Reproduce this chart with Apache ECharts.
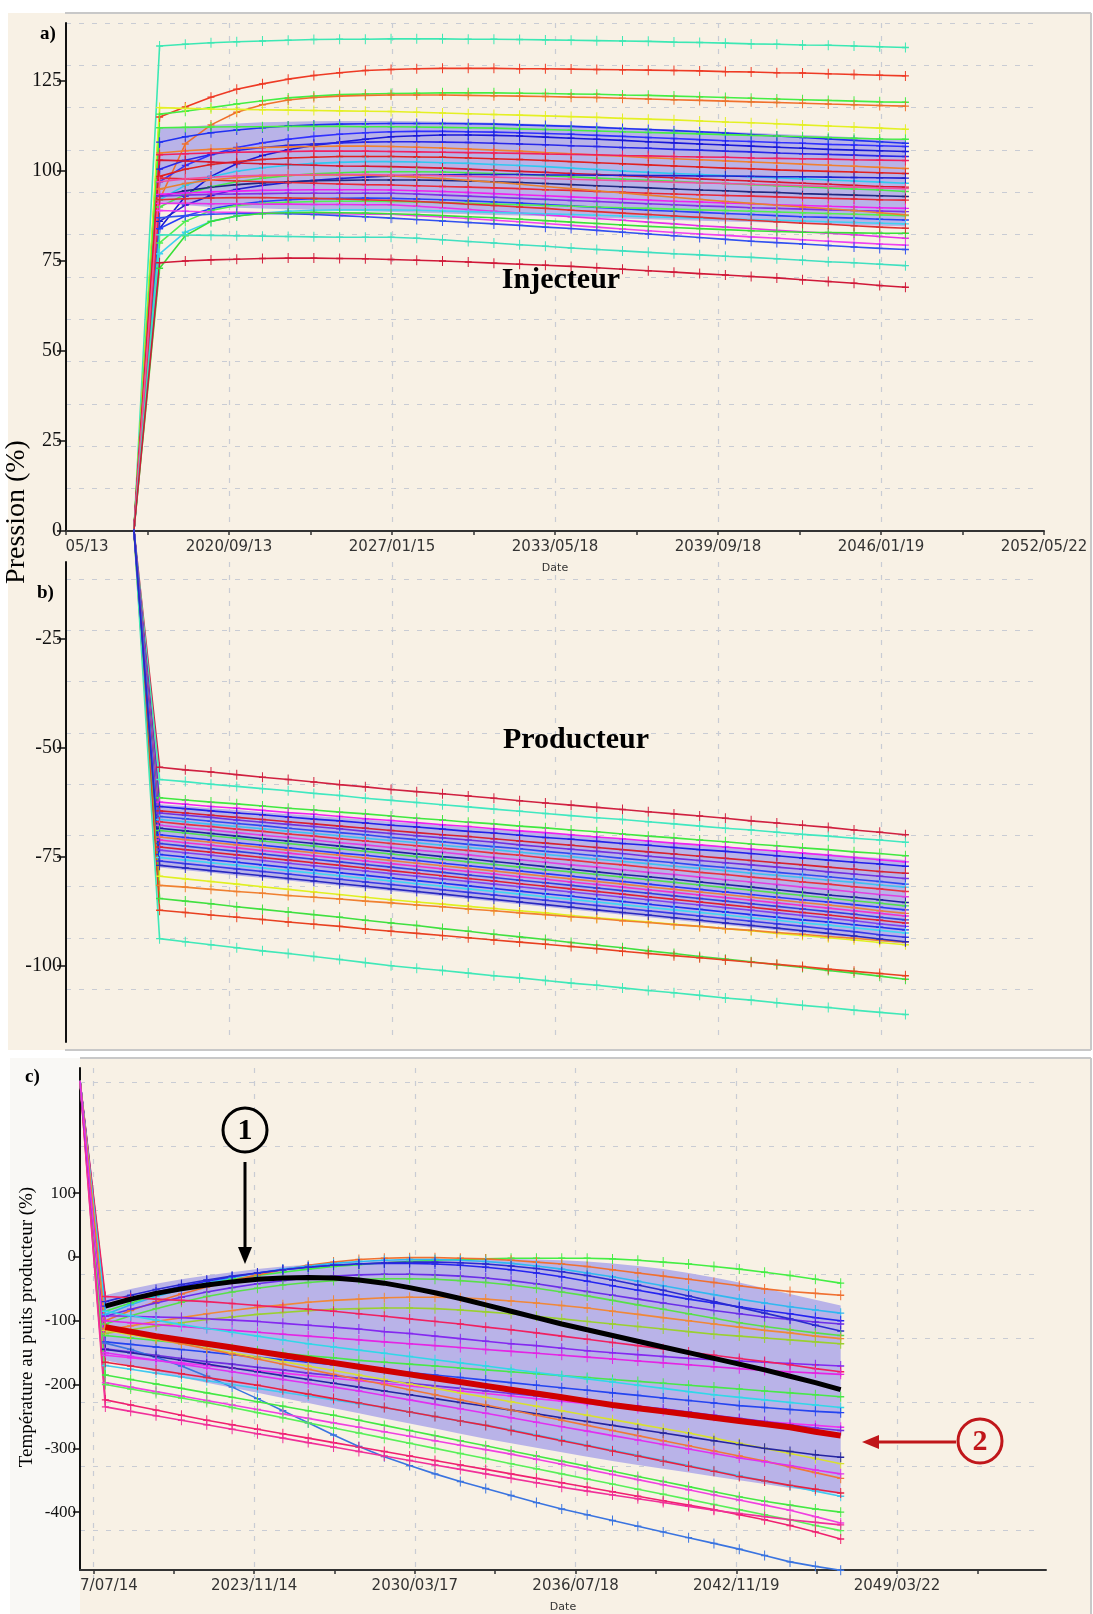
<!DOCTYPE html>
<html><head><meta charset="utf-8">
<script src="https://cdn.jsdelivr.net/npm/echarts@6/dist/echarts.min.js"></script>
<style>html,body{margin:0;padding:0;background:#fff}#c{width:1093px;height:1614px}</style>
</head><body><div id="c"></div>
<script>
// ---------------- DATA ----------------
const years = [2018,2019,2020,2021,2022,2023,2024,2025,2026,2027,2028,2029,2030,2031,2032,2033,2034,2035,2036,2037,2038,2039,2040,2041,2042,2043,2044,2045,2046,2047];
const simStart = '2017/01/01';
const injStartValue = 0;
const prodStartValue = 0;
const tempStartValue = 276;

const xTickDatesAB = ['2014/05/13','2020/09/13','2027/01/15','2033/05/18','2039/09/18','2046/01/19','2052/05/22'];
const xTickTextAB  = ['05/13','2020/09/13','2027/01/15','2033/05/18','2039/09/18','2046/01/19','2052/05/22'];
const xRangeAB = ['2014/05/13','2052/05/22'];
const xTickDatesC = ['2017/07/14','2023/11/14','2030/03/17','2036/07/18','2042/11/19','2049/03/22'];
const xTickTextC  = ['7/07/14','2023/11/14','2030/03/17','2036/07/18','2042/11/19','2049/03/22'];
const xRangeC = ['2017/01/01','2055/02/05'];

const yTicksInj = [0,25,50,75,100,125];
const yRangeInj = [0,141.1];
const yTicksProd = [-25,-50,-75,-100];
const yRangeProd = [-117.5,-7.45];
const yTicksTemp = [100,0,-100,-200,-300,-400];
const yRangeTemp = [-490.7,296.3];

// a) Injecteur
const inj01 = [134.7,135.2,135.6,135.9,136.1,136.3,136.5,136.6,136.6,136.7,136.7,136.7,136.6,136.6,136.5,136.4,136.3,136.2,136.1,136.0,135.8,135.7,135.5,135.3,135.2,135.0,134.9,134.7,134.5,134.3];
const inj02 = [115.0,117.8,120.5,122.7,124.2,125.5,126.5,127.3,127.9,128.2,128.4,128.5,128.5,128.5,128.4,128.4,128.3,128.2,128.1,128.0,127.9,127.8,127.6,127.5,127.3,127.2,127.0,126.8,126.6,126.4];
const inj03 = [115.8,116.6,117.6,118.6,119.5,120.3,120.8,121.2,121.4,121.5,121.6,121.7,121.7,121.7,121.6,121.5,121.4,121.3,121.1,121.0,120.8,120.6,120.4,120.2,120.0,119.8,119.6,119.4,119.2,119.1];
const inj04 = [92.0,107.5,112.8,116.3,118.4,119.7,120.4,120.8,121.0,121.1,121.1,121.1,121.0,120.9,120.8,120.7,120.5,120.4,120.2,120.0,119.8,119.6,119.4,119.2,119.0,118.8,118.6,118.4,118.2,118.0];
const inj05 = [117.6,117.4,117.2,117.1,117.0,116.9,116.8,116.7,116.6,116.5,116.3,116.1,115.9,115.7,115.5,115.3,115.1,114.9,114.6,114.4,114.2,113.9,113.6,113.4,113.1,112.8,112.5,112.2,111.9,111.6];
const inj06 = [108.0,109.5,110.6,111.4,112.0,112.5,112.8,113.0,113.1,113.2,113.2,113.2,113.1,113.0,112.8,112.6,112.4,112.1,111.8,111.5,111.2,110.9,110.5,110.1,109.7,109.3,108.9,108.5,108.1,107.7];
const inj07 = [112.0,112.1,112.2,112.3,112.3,112.4,112.4,112.4,112.3,112.3,112.2,112.1,112.0,111.9,111.7,111.5,111.3,111.1,110.9,110.7,110.5,110.3,110.1,109.9,109.7,109.5,109.3,109.1,108.9,108.8];
const inj08 = [97.0,101.5,104.5,106.5,107.8,108.8,109.6,110.2,110.6,110.9,111.0,111.0,110.9,110.8,110.6,110.4,110.2,109.9,109.6,109.3,109.0,108.7,108.4,108.2,107.9,107.7,107.4,107.2,107.0,106.8];
const inj09 = [84.0,93.0,98.5,102.0,104.3,105.9,107.1,108.0,108.8,109.5,109.8,110.0,110.0,109.9,109.7,109.4,109.1,108.8,108.5,108.1,107.8,107.5,107.2,106.9,106.6,106.3,106.0,105.8,105.6,105.4];
const inj10 = [100.5,103.0,104.6,105.7,106.5,107.1,107.5,107.8,108.0,108.1,108.1,108.0,107.9,107.7,107.5,107.3,107.0,106.8,106.5,106.3,106.0,105.8,105.5,105.3,105.0,104.8,104.6,104.4,104.2,104.0];
const inj11 = [105.0,105.6,106.0,106.3,106.5,106.7,106.8,106.9,106.9,106.8,106.6,106.4,106.1,105.8,105.5,105.1,104.8,104.4,104.1,103.7,103.4,103.1,102.8,102.5,102.2,101.9,101.6,101.3,101.0,100.7];
const inj12 = [104.5,104.8,105.0,105.2,105.3,105.4,105.5,105.5,105.5,105.4,105.3,105.2,105.1,105.0,104.9,104.7,104.6,104.5,104.3,104.2,104.0,103.9,103.8,103.6,103.5,103.4,103.3,103.1,103.0,102.9];
const inj13 = [98.5,100.5,101.8,102.6,103.2,103.6,103.8,104.0,104.0,104.0,103.9,103.8,103.6,103.4,103.2,102.9,102.6,102.3,102.0,101.7,101.4,101.1,100.8,100.6,100.3,100.1,99.9,99.7,99.5,99.3];
const inj14 = [92.0,96.0,98.4,99.9,100.9,101.6,102.1,102.4,102.6,102.6,102.5,102.3,102.1,101.8,101.5,101.2,100.8,100.4,100.0,99.6,99.3,99.0,98.7,98.4,98.1,97.8,97.5,97.2,96.9,96.6];
const inj15 = [103.0,102.8,102.5,102.2,102.0,101.8,101.6,101.4,101.3,101.2,101.0,100.8,100.5,100.2,99.9,99.6,99.3,99.0,98.7,98.4,98.1,97.8,97.5,97.2,96.9,96.6,96.3,96.0,95.7,95.5];
const inj16 = [90.0,93.5,95.6,97.0,98.0,98.7,99.2,99.5,99.7,99.8,99.8,99.7,99.5,99.3,99.0,98.7,98.4,98.0,97.7,97.4,97.1,96.8,96.5,96.2,95.9,95.6,95.3,95.0,94.7,94.3];
const inj17 = [86.0,90.5,93.2,94.9,96.0,96.8,97.4,97.9,98.3,98.6,98.8,98.9,99.0,99.0,99.0,98.9,98.9,98.8,98.8,98.7,98.7,98.6,98.6,98.5,98.4,98.4,98.3,98.2,98.1,98.0];
const inj18 = [93.0,94.5,95.5,96.2,96.7,97.0,97.3,97.4,97.5,97.5,97.5,97.4,97.2,97.0,96.8,96.5,96.2,95.9,95.6,95.3,95.0,94.7,94.5,94.2,94.0,93.7,93.5,93.3,93.1,92.9];
const inj19 = [98.0,97.8,97.5,97.2,97.0,96.8,96.6,96.4,96.2,96.1,95.9,95.7,95.5,95.3,95.1,94.8,94.6,94.3,94.1,93.8,93.6,93.4,93.2,93.0,92.8,92.6,92.4,92.2,92.0,91.9];
const inj20 = [93.5,93.9,94.2,94.4,94.6,94.7,94.8,94.8,94.8,94.7,94.5,94.3,94.0,93.7,93.4,93.1,92.8,92.5,92.2,91.9,91.6,91.4,91.1,90.9,90.6,90.4,90.2,90.0,89.8,89.6];
const inj21 = [93.0,93.3,93.5,93.6,93.7,93.8,93.8,93.8,93.8,93.8,93.6,93.3,93.0,92.7,92.4,92.1,91.8,91.5,91.2,90.9,90.6,90.3,90.1,89.8,89.6,89.4,89.2,89.0,88.9,88.7];
const inj22 = [84.0,87.5,89.5,90.7,91.5,92.0,92.3,92.4,92.5,92.4,92.2,92.0,91.7,91.4,91.1,90.7,90.3,89.9,89.5,89.1,88.8,88.5,88.2,87.9,87.6,87.3,87.1,86.9,86.6,86.4];
const inj23 = [80.0,86.0,89.0,90.4,91.0,91.3,91.5,91.6,91.6,91.5,91.4,91.2,91.0,90.8,90.6,90.4,90.2,90.0,89.8,89.6,89.4,89.2,89.0,88.8,88.6,88.4,88.2,88.0,87.8,87.6];
const inj24 = [91.0,91.0,90.9,90.9,90.8,90.8,90.7,90.7,90.6,90.6,90.2,89.8,89.3,88.8,88.3,87.8,87.3,86.8,86.3,85.8,85.3,84.8,84.4,84.0,83.5,83.1,82.7,82.3,81.8,81.3];
const inj25 = [77.0,83.0,86.0,87.5,88.3,88.8,89.1,89.2,89.2,89.2,89.1,88.9,88.7,88.5,88.3,88.1,87.9,87.7,87.5,87.3,87.1,86.9,86.7,86.5,86.3,86.1,85.9,85.7,85.5,85.3];
const inj26 = [89.0,88.8,88.6,88.5,88.4,88.3,88.2,88.1,88.0,88.0,87.6,87.2,86.8,86.3,85.9,85.4,84.9,84.4,83.9,83.4,82.9,82.5,82.1,81.7,81.3,80.9,80.5,80.1,79.7,79.4];
const inj27 = [87.0,87.6,88.0,88.2,88.2,88.1,87.9,87.6,87.3,86.9,86.5,86.1,85.7,85.3,84.9,84.4,84.0,83.5,83.0,82.5,82.0,81.5,81.0,80.5,80.1,79.7,79.3,78.9,78.5,78.2];
const inj28 = [73.0,82.0,86.0,87.5,88.2,88.4,88.5,88.4,88.3,88.1,87.9,87.6,87.3,87.0,86.6,86.2,85.8,85.4,85.0,84.6,84.3,84.0,83.7,83.4,83.2,83.0,82.9,82.8,82.7,82.7];
const inj29 = [95.0,96.5,97.5,98.2,98.6,98.8,98.9,98.9,98.8,98.6,98.3,97.9,97.4,96.9,96.3,95.7,95.1,94.5,93.9,93.3,92.7,92.1,91.5,91.0,90.5,90.0,89.5,89.0,88.4,87.8];
const inj30 = [92.0,92.3,92.5,92.6,92.6,92.5,92.4,92.2,92.0,91.8,91.5,91.2,90.8,90.4,90.0,89.6,89.1,88.7,88.3,87.9,87.5,87.1,86.7,86.3,85.9,85.5,85.2,84.8,84.4,84.1];
const inj31 = [97.0,97.8,98.3,98.6,98.8,98.9,99.0,99.0,99.0,98.9,98.8,98.7,98.5,98.3,98.1,97.9,97.7,97.5,97.3,97.1,96.9,96.7,96.5,96.3,96.1,95.9,95.7,95.5,95.3,95.1];
const inj32 = [82.3,82.2,82.1,82.0,81.9,81.8,81.7,81.6,81.6,81.6,81.3,80.9,80.4,80.0,79.5,79.1,78.6,78.2,77.8,77.4,77.0,76.7,76.3,76.0,75.6,75.2,74.8,74.5,74.1,73.7];
const inj33 = [74.5,75.0,75.3,75.5,75.7,75.8,75.8,75.7,75.6,75.4,75.2,75.0,74.7,74.4,74.1,73.8,73.5,73.1,72.7,72.3,71.9,71.5,71.1,70.7,70.3,69.8,69.3,68.8,68.2,67.7];
const injColors = ['#3ce8b4','#ee3a24','#44ee44','#f0702c','#e4f024','#2030f0','#44ee44','#3030ff','#1818d8','#2828e8','#f08030','#f02060','#e02020','#30c8f0','#d81830','#48e848','#2020d0','#202880','#e82838','#f020f0','#8030e8','#2840f8','#50f050','#e830e8','#40d0f0','#f040f0','#3050f0','#38e038','#e88030','#e03030','#f050a0','#40e0c0','#d01838'];
const injBandHigh = [112.0,112.3,112.8,113.2,113.5,113.7,113.8,113.9,113.9,113.9,113.8,113.7,113.6,113.4,113.2,113.0,112.7,112.4,112.1,111.8,111.5,111.2,110.9,110.6,110.3,110.0,109.7,109.4,109.1,108.7];
const injBandLow  = [91.5,90.5,90.0,89.8,89.6,89.4,89.2,89.0,88.8,88.6,88.4,88.2,88.0,87.8,87.6,87.4,87.2,87.0,86.8,86.6,86.4,86.2,86.0,85.8,85.6,85.4,85.2,85.0,84.8,84.6];

// b) Producteur
const prod01 = [-54.5,-55.1,-55.6,-56.2,-56.8,-57.3,-57.9,-58.5,-59.0,-59.6,-60.1,-60.6,-61.1,-61.6,-62.2,-62.7,-63.2,-63.7,-64.2,-64.7,-65.2,-65.7,-66.2,-66.8,-67.3,-67.8,-68.3,-68.9,-69.4,-70.0];
const prod02 = [-57.3,-57.8,-58.4,-58.9,-59.4,-59.9,-60.5,-61.0,-61.6,-62.1,-62.6,-63.1,-63.6,-64.1,-64.6,-65.1,-65.6,-66.1,-66.5,-67.0,-67.5,-68.0,-68.5,-68.9,-69.4,-69.9,-70.3,-70.8,-71.2,-71.7];
const prod03 = [-61.5,-62.0,-62.5,-62.9,-63.4,-63.9,-64.3,-64.8,-65.2,-65.7,-66.2,-66.6,-67.1,-67.5,-68.0,-68.4,-68.9,-69.3,-69.8,-70.3,-70.7,-71.2,-71.6,-72.1,-72.5,-73.0,-73.4,-73.9,-74.3,-74.8];
const prod04 = [-79.5,-80.1,-80.7,-81.3,-81.9,-82.5,-83.1,-83.7,-84.3,-84.9,-85.4,-85.9,-86.4,-86.9,-87.4,-87.9,-88.5,-89.0,-89.5,-90.0,-90.5,-91.0,-91.5,-92.0,-92.6,-93.1,-93.6,-94.1,-94.7,-95.2];
const prod05 = [-81.6,-82.0,-82.5,-83.0,-83.4,-83.9,-84.3,-84.7,-85.2,-85.6,-86.1,-86.5,-87.0,-87.4,-87.9,-88.3,-88.8,-89.2,-89.7,-90.1,-90.6,-91.0,-91.5,-91.9,-92.4,-92.8,-93.3,-93.7,-94.2,-94.6];
const prod06 = [-84.6,-85.2,-85.8,-86.5,-87.1,-87.7,-88.3,-88.9,-89.6,-90.2,-90.8,-91.5,-92.1,-92.8,-93.4,-94.0,-94.7,-95.3,-95.9,-96.6,-97.2,-97.9,-98.5,-99.1,-99.8,-100.4,-101.1,-101.7,-102.4,-103.1];
const prod07 = [-87.3,-87.8,-88.4,-88.9,-89.4,-90.0,-90.5,-91.0,-91.6,-92.1,-92.6,-93.1,-93.6,-94.1,-94.6,-95.1,-95.6,-96.1,-96.7,-97.2,-97.7,-98.2,-98.7,-99.2,-99.7,-100.2,-100.8,-101.3,-101.8,-102.3];
const prod08 = [-93.8,-94.5,-95.2,-95.9,-96.6,-97.2,-97.9,-98.6,-99.3,-100.0,-100.6,-101.1,-101.7,-102.3,-102.8,-103.4,-104.0,-104.5,-105.1,-105.7,-106.2,-106.8,-107.4,-107.9,-108.5,-109.1,-109.6,-110.2,-110.7,-111.2];
const prod09 = [-62.5,-63.0,-63.5,-63.9,-64.4,-64.9,-65.3,-65.8,-66.3,-66.7,-67.2,-67.7,-68.1,-68.6,-69.1,-69.5,-70.0,-70.5,-70.9,-71.4,-71.9,-72.3,-72.8,-73.3,-73.7,-74.2,-74.7,-75.2,-75.7,-76.2];
const prod10 = [-63.5,-64.0,-64.5,-65.0,-65.4,-65.9,-66.4,-66.8,-67.3,-67.8,-68.2,-68.7,-69.2,-69.6,-70.1,-70.6,-71.0,-71.5,-72.0,-72.4,-72.9,-73.4,-73.8,-74.3,-74.8,-75.3,-75.8,-76.3,-76.7,-77.2];
const prod11 = [-64.5,-65.0,-65.5,-66.0,-66.5,-67.0,-67.5,-68.0,-68.5,-69.0,-69.5,-70.0,-70.4,-70.9,-71.4,-71.9,-72.4,-72.9,-73.4,-73.9,-74.4,-74.9,-75.4,-75.9,-76.4,-76.9,-77.4,-77.9,-78.4,-78.8];
const prod12 = [-65.0,-65.5,-66.0,-66.6,-67.1,-67.6,-68.1,-68.6,-69.2,-69.7,-70.2,-70.7,-71.2,-71.7,-72.3,-72.8,-73.3,-73.8,-74.3,-74.9,-75.4,-75.9,-76.4,-76.9,-77.4,-77.9,-78.5,-79.0,-79.5,-80.0];
const prod13 = [-65.8,-66.3,-66.9,-67.4,-67.9,-68.5,-69.0,-69.5,-70.0,-70.6,-71.1,-71.6,-72.2,-72.7,-73.2,-73.8,-74.3,-74.8,-75.4,-75.9,-76.4,-77.0,-77.5,-78.0,-78.6,-79.1,-79.6,-80.2,-80.7,-81.3];
const prod14 = [-66.5,-67.0,-67.6,-68.1,-68.6,-69.2,-69.7,-70.2,-70.8,-71.3,-71.8,-72.4,-72.9,-73.4,-74.0,-74.5,-75.0,-75.6,-76.1,-76.6,-77.2,-77.7,-78.2,-78.8,-79.3,-79.8,-80.4,-80.9,-81.5,-82.0];
const prod15 = [-67.0,-67.6,-68.1,-68.7,-69.2,-69.8,-70.3,-70.9,-71.4,-72.0,-72.5,-73.1,-73.6,-74.2,-74.7,-75.3,-75.8,-76.4,-76.9,-77.5,-78.0,-78.6,-79.1,-79.7,-80.2,-80.8,-81.3,-81.9,-82.4,-83.0];
const prod16 = [-67.8,-68.4,-68.9,-69.5,-70.1,-70.6,-71.2,-71.8,-72.3,-72.9,-73.5,-74.0,-74.6,-75.2,-75.7,-76.3,-76.9,-77.4,-78.0,-78.6,-79.1,-79.7,-80.3,-80.8,-81.4,-82.0,-82.5,-83.1,-83.7,-84.2];
const prod17 = [-68.5,-69.1,-69.7,-70.3,-70.9,-71.4,-72.0,-72.6,-73.2,-73.8,-74.4,-75.0,-75.5,-76.1,-76.7,-77.3,-77.9,-78.5,-79.1,-79.6,-80.2,-80.8,-81.4,-82.0,-82.6,-83.2,-83.8,-84.3,-84.9,-85.5];
const prod18 = [-69.0,-69.6,-70.2,-70.8,-71.4,-72.0,-72.6,-73.2,-73.8,-74.4,-75.0,-75.6,-76.2,-76.8,-77.4,-78.0,-78.5,-79.1,-79.7,-80.3,-80.9,-81.5,-82.1,-82.7,-83.3,-83.9,-84.5,-85.1,-85.7,-86.3];
const prod19 = [-70.0,-70.6,-71.2,-71.8,-72.4,-73.0,-73.6,-74.2,-74.7,-75.3,-75.9,-76.5,-77.1,-77.7,-78.3,-78.9,-79.5,-80.1,-80.7,-81.3,-81.9,-82.5,-83.1,-83.7,-84.3,-84.9,-85.4,-86.0,-86.6,-87.2];
const prod20 = [-70.5,-71.1,-71.7,-72.3,-72.9,-73.5,-74.1,-74.7,-75.3,-75.9,-76.5,-77.1,-77.7,-78.3,-78.9,-79.5,-80.1,-80.7,-81.3,-81.9,-82.5,-83.1,-83.7,-84.3,-84.9,-85.5,-86.1,-86.7,-87.4,-88.0];
const prod21 = [-71.2,-71.8,-72.4,-73.0,-73.6,-74.2,-74.8,-75.4,-76.0,-76.6,-77.2,-77.8,-78.4,-79.0,-79.6,-80.2,-80.8,-81.4,-82.0,-82.6,-83.2,-83.8,-84.4,-85.0,-85.6,-86.2,-86.8,-87.4,-88.0,-88.6];
const prod22 = [-72.0,-72.6,-73.2,-73.8,-74.4,-75.0,-75.6,-76.2,-76.8,-77.4,-78.0,-78.6,-79.2,-79.8,-80.4,-81.0,-81.6,-82.2,-82.8,-83.4,-84.0,-84.6,-85.2,-85.8,-86.4,-87.0,-87.6,-88.2,-88.9,-89.5];
const prod23 = [-72.8,-73.4,-74.0,-74.6,-75.2,-75.8,-76.4,-77.0,-77.6,-78.2,-78.8,-79.4,-80.0,-80.6,-81.2,-81.8,-82.4,-83.0,-83.6,-84.2,-84.8,-85.4,-86.0,-86.6,-87.2,-87.8,-88.4,-89.0,-89.6,-90.2];
const prod24 = [-73.5,-74.1,-74.7,-75.3,-75.9,-76.5,-77.1,-77.7,-78.3,-78.9,-79.5,-80.1,-80.7,-81.3,-81.9,-82.5,-83.1,-83.7,-84.3,-84.9,-85.5,-86.1,-86.7,-87.3,-87.9,-88.5,-89.1,-89.7,-90.4,-91.0];
const prod25 = [-74.5,-75.1,-75.7,-76.3,-76.9,-77.5,-78.1,-78.7,-79.3,-79.9,-80.5,-81.1,-81.7,-82.3,-82.9,-83.5,-84.1,-84.7,-85.3,-85.9,-86.5,-87.1,-87.7,-88.3,-88.9,-89.5,-90.0,-90.6,-91.2,-91.8];
const prod26 = [-75.2,-75.8,-76.4,-77.0,-77.6,-78.2,-78.8,-79.4,-80.0,-80.6,-81.2,-81.8,-82.4,-83.0,-83.6,-84.2,-84.8,-85.4,-86.0,-86.6,-87.2,-87.8,-88.4,-89.0,-89.6,-90.2,-90.7,-91.3,-91.9,-92.5];
const prod27 = [-76.0,-76.6,-77.2,-77.8,-78.4,-79.0,-79.6,-80.2,-80.8,-81.4,-82.0,-82.6,-83.2,-83.8,-84.4,-85.0,-85.6,-86.2,-86.8,-87.4,-88.0,-88.6,-89.2,-89.8,-90.4,-91.0,-91.6,-92.2,-92.9,-93.5];
const prod28 = [-77.0,-77.6,-78.2,-78.8,-79.4,-80.0,-80.6,-81.2,-81.8,-82.4,-83.0,-83.6,-84.2,-84.8,-85.4,-86.0,-86.6,-87.2,-87.8,-88.4,-89.0,-89.6,-90.2,-90.8,-91.4,-92.0,-92.6,-93.2,-93.9,-94.5];
const prodColors = ['#d02040','#40e8c0','#40e840','#e0f020','#f08030','#40e040','#e84020','#40e8b8','#f020f0','#2020e8','#d82030','#7030e0','#3048f0','#40c0f0','#e83040','#e040e0','#2020a0','#50e050','#2838f8','#e88040','#f030d0','#3040e0','#e02030','#8040f0','#2030f0','#40d8f0','#3838e8','#2828c0'];
const prodBandHigh = [-63.0,-63.4,-63.9,-64.3,-64.8,-65.2,-65.6,-66.1,-66.5,-67.0,-67.4,-67.8,-68.3,-68.7,-69.2,-69.6,-70.0,-70.5,-70.9,-71.4,-71.8,-72.2,-72.7,-73.1,-73.6,-74.0,-74.4,-74.9,-75.3,-75.8];
const prodBandLow  = [-77.5,-78.1,-78.7,-79.3,-79.9,-80.5,-81.1,-81.7,-82.3,-82.9,-83.5,-84.1,-84.7,-85.3,-85.9,-86.5,-87.1,-87.7,-88.3,-88.9,-89.5,-90.1,-90.7,-91.3,-91.9,-92.5,-93.1,-93.7,-94.4,-95.0];

// c) Temperature
const temp01 = [-85,-72,-60,-50,-42,-35,-29,-24,-19,-15,-12,-9,-7,-5,-4,-3,-2,-2,-2,-2,-3,-5,-8,-11,-15,-19,-24,-29,-35,-41];
const temp02 = [-100,-84,-70,-58,-47,-37,-28,-20,-13,-8,-4,-2,-1,-1,-2,-3,-5,-8,-11,-15,-20,-25,-30,-35,-40,-45,-50,-54,-57,-60];
const temp03 = [-90,-75,-62,-51,-41,-32,-25,-19,-14,-10,-7,-5,-4,-4,-5,-7,-10,-14,-19,-25,-31,-38,-45,-52,-59,-66,-72,-78,-83,-88];
const temp04 = [-77,-65,-55,-46,-38,-31,-25,-20,-16,-13,-11,-10,-10,-11,-13,-16,-20,-25,-31,-38,-45,-52,-59,-66,-72,-78,-84,-89,-95,-100];
const temp05 = [-93,-82,-72,-63,-55,-48,-42,-37,-33,-30,-28,-27,-27,-28,-30,-33,-37,-42,-48,-54,-60,-66,-72,-78,-84,-89,-94,-98,-102,-105];
const temp06 = [-70,-60,-51,-43,-36,-30,-25,-20,-16,-13,-11,-9,-8,-8,-9,-11,-14,-18,-23,-29,-36,-44,-52,-61,-70,-79,-88,-97,-107,-116];
const temp07 = [-105,-92,-81,-71,-62,-55,-49,-44,-40,-37,-35,-34,-34,-35,-37,-40,-44,-49,-55,-61,-68,-75,-82,-89,-96,-103,-109,-114,-119,-123];
const temp08 = [-115,-108,-101,-95,-89,-84,-79,-75,-71,-68,-66,-64,-63,-63,-64,-66,-69,-72,-76,-80,-85,-90,-95,-100,-105,-110,-115,-119,-124,-128];
const temp09 = [-120,-114,-108,-103,-98,-94,-90,-87,-84,-82,-81,-80,-80,-81,-83,-86,-89,-93,-97,-101,-105,-109,-113,-117,-121,-124,-127,-130,-133,-136];
const temp10 = [-92,-93,-94,-95,-97,-99,-101,-104,-107,-110,-113,-117,-120,-124,-128,-132,-136,-139,-143,-147,-150,-153,-156,-159,-161,-163,-165,-167,-169,-171];
const temp11 = [-62,-64,-66,-68,-70,-73,-76,-79,-82,-85,-89,-93,-97,-101,-105,-110,-114,-119,-124,-129,-134,-139,-144,-149,-154,-159,-164,-169,-175,-180];
const temp12 = [-100,-103,-106,-109,-112,-115,-118,-121,-124,-127,-130,-133,-136,-139,-142,-145,-148,-151,-154,-157,-160,-163,-166,-169,-172,-175,-178,-180,-182,-184];
const temp13 = [-123,-127,-131,-135,-139,-143,-147,-151,-155,-158,-162,-165,-168,-171,-174,-177,-180,-183,-186,-189,-192,-195,-198,-201,-204,-207,-210,-213,-216,-219];
const temp14 = [-85,-92,-99,-106,-112,-118,-124,-130,-136,-141,-146,-151,-156,-161,-166,-171,-176,-181,-186,-191,-196,-201,-206,-211,-216,-220,-224,-228,-232,-236];
const temp15 = [-133,-137,-141,-145,-149,-153,-157,-161,-165,-169,-173,-177,-181,-185,-189,-193,-197,-201,-205,-209,-213,-217,-221,-225,-229,-233,-236,-239,-242,-244];
const temp16 = [-154,-158,-162,-166,-170,-174,-178,-182,-186,-190,-194,-198,-202,-206,-210,-214,-218,-222,-226,-230,-234,-238,-242,-246,-250,-254,-258,-261,-264,-267];
const temp17 = [-144,-149,-154,-159,-164,-168,-173,-177,-182,-186,-190,-194,-198,-202,-206,-210,-214,-218,-222,-226,-230,-234,-238,-243,-248,-253,-258,-263,-268,-272];
const temp18 = [-135,-145,-157,-171,-187,-204,-222,-241,-260,-279,-297,-313,-327,-340,-352,-363,-374,-385,-395,-404,-413,-422,-431,-440,-449,-458,-468,-478,-485,-491];
const temp19 = [-170,-176,-182,-188,-194,-200,-206,-212,-218,-224,-230,-236,-243,-250,-257,-264,-271,-279,-287,-295,-303,-311,-319,-327,-335,-343,-351,-359,-367,-375];
const temp20 = [-165,-171,-177,-183,-189,-195,-201,-208,-215,-222,-229,-236,-243,-250,-257,-264,-272,-280,-288,-296,-304,-312,-320,-328,-336,-344,-351,-358,-364,-370];
const temp21 = [-185,-192,-199,-206,-213,-220,-227,-234,-241,-248,-256,-264,-272,-280,-288,-296,-304,-312,-320,-328,-336,-344,-352,-360,-368,-376,-383,-389,-395,-400];
const temp22 = [-197,-204,-211,-218,-225,-232,-239,-246,-253,-260,-267,-274,-281,-288,-295,-302,-309,-317,-325,-333,-341,-349,-357,-365,-373,-381,-389,-397,-407,-417];
const temp23 = [-200,-207,-214,-221,-228,-236,-244,-252,-260,-268,-276,-284,-292,-300,-308,-316,-324,-332,-340,-348,-356,-364,-372,-380,-388,-396,-404,-412,-421,-429];
const temp24 = [-224,-232,-240,-248,-256,-263,-270,-277,-284,-291,-298,-305,-312,-319,-326,-333,-340,-347,-354,-361,-368,-375,-382,-389,-396,-404,-412,-421,-431,-442];
const temp25 = [-235,-242,-249,-256,-263,-270,-277,-284,-291,-298,-305,-312,-319,-326,-333,-340,-347,-354,-361,-367,-373,-379,-385,-391,-397,-402,-407,-412,-416,-420];
const temp26 = [-115,-122,-129,-136,-143,-150,-157,-164,-171,-178,-185,-192,-199,-206,-213,-220,-227,-234,-241,-248,-255,-262,-269,-276,-284,-292,-300,-308,-316,-324];
const temp27 = [-145,-150,-156,-162,-168,-174,-180,-186,-192,-198,-204,-210,-216,-222,-228,-234,-240,-246,-252,-258,-264,-270,-276,-282,-288,-294,-300,-305,-310,-314];
const temp28 = [-112,-120,-128,-136,-144,-152,-160,-168,-176,-184,-192,-200,-208,-216,-224,-232,-240,-248,-256,-264,-272,-280,-288,-296,-304,-312,-320,-329,-338,-347];
const temp29 = [-150,-156,-162,-168,-174,-180,-186,-192,-198,-204,-210,-217,-224,-231,-238,-245,-252,-259,-266,-273,-280,-287,-294,-301,-308,-315,-321,-327,-334,-340];
const tempColors = ['#44ee44','#f07030','#30b8f0','#2424f0','#6a2ee8','#2a2ad0','#58e048','#f08838','#9ad030','#8428f0','#f02060','#e424e4','#48e848','#30d8e8','#2444f0','#f030f0','#7030e0','#3a74e0','#40c8f0','#e82040','#44e844','#f040e0','#58f058','#f02070','#f0309a','#d8e030','#2424a0','#f07838','#e030f0'];
const tempCase1 = [-77,-66,-57,-50,-44,-39,-35,-33,-32,-33,-36,-41,-48,-56,-65,-75,-85,-95,-105,-114,-123,-132,-141,-150,-159,-168,-177,-187,-197,-208];
const tempCase2 = [-110,-117,-124,-130,-136,-142,-148,-154,-160,-166,-172,-178,-184,-190,-196,-202,-208,-214,-220,-226,-232,-237,-242,-247,-252,-257,-262,-267,-274,-280];
const tempBandHigh = [-60,-50,-42,-35,-29,-24,-19,-15,-12,-9,-7,-5,-4,-3,-3,-3,-3,-4,-5,-7,-10,-14,-19,-25,-32,-40,-49,-58,-67,-76];
const tempBandLow  = [-162,-171,-180,-189,-197,-205,-213,-221,-229,-237,-245,-253,-261,-269,-277,-285,-292,-299,-306,-313,-320,-326,-332,-338,-344,-350,-356,-362,-367,-372];

// ---------------- BUILD ----------------
const injLines = [inj01,inj02,inj03,inj04,inj05,inj06,inj07,inj08,inj09,inj10,inj11,inj12,inj13,inj14,inj15,inj16,inj17,inj18,inj19,inj20,inj21,inj22,inj23,inj24,inj25,inj26,inj27,inj28,inj29,inj30,inj31,inj32,inj33];
const prodLines = [prod01,prod02,prod03,prod04,prod05,prod06,prod07,prod08,prod09,prod10,prod11,prod12,prod13,prod14,prod15,prod16,prod17,prod18,prod19,prod20,prod21,prod22,prod23,prod24,prod25,prod26,prod27,prod28];
const tempLines = [temp01,temp02,temp03,temp04,temp05,temp06,temp07,temp08,temp09,temp10,temp11,temp12,temp13,temp14,temp15,temp16,temp17,temp18,temp19,temp20,temp21,temp22,temp23,temp24,temp25,temp26,temp27,temp28,temp29];

const DAY = 86400000;
function toTs(s){const p=s.split('/').map(Number);return Date.UTC(p[0],p[1]-1,p[2]);}
const xs = years.map(y=>Date.UTC(y,0,1));
const x0 = toTs(simStart);
const majAB = xTickDatesAB.map(toTs), majC = xTickDatesC.map(toTs);
const minAB = toTs(xRangeAB[0]), maxAB = toTs(xRangeAB[1]);
const minC = toTs(xRangeC[0]), maxC = toTs(xRangeC[1]);
function withMids(arr, lo, hi){const out=[];for(let i=0;i<arr.length;i++){out.push(arr[i]);if(i<arr.length-1)out.push((arr[i]+arr[i+1])/2);}
  const step=arr.length>1?(arr[1]-arr[0])/2:0; let t=arr[arr.length-1]+step; while(t<=hi){out.push(t);t+=step;} return out.filter(v=>v>=lo&&v<=hi);}

const BEIGE = '#f8f1e5';
const PLUS = 'path://M4.3,0H5.7V4.3H10V5.7H5.7V10H4.3V5.7H0V4.3H4.3Z';
const GRIDLINE = {type:[5,8], color:'#c9ccd4', width:1.2};

const G = {
  a:{left:66, top:23, width:978, height:508},
  b:{left:66, top:562, width:978, height:480},
  c:{left:80, top:1068, width:966, height:510}
};

const grids=[], xAxes=[], yAxes=[], series=[];

function labelFmt(majors, texts){
  return function(v){
    let idx=-1; for(let i=0;i<majors.length;i++){ if(Math.abs(majors[i]-v)<DAY) idx=i; }
    if(idx<0) return '';
    return idx===0 ? '{cut|'+texts[0]+'}' : texts[idx];
  };
}
const xLabelFont = {fontFamily:'DejaVu Sans', fontSize:15, color:'#333'};

// main grid a
grids.push(Object.assign({}, G.a));
xAxes.push({type:'value', gridIndex:0, min:minAB, max:maxAB,
  axisLine:{show:true, onZero:false, lineStyle:{color:'#333', width:2}},
  axisTick:{show:true, customValues:withMids(majAB,minAB,maxAB), length:4, lineStyle:{color:'#333', width:1.5}},
  axisLabel:Object.assign({show:true, customValues:majAB, margin:9, formatter:labelFmt(majAB,xTickTextAB),
    rich:{cut:{fontFamily:'DejaVu Sans', fontSize:15, color:'#333', padding:[0,0,0,42]}}}, xLabelFont),
  splitLine:{show:false},
  name:'Date', nameLocation:'middle', nameGap:32, nameTextStyle:{fontFamily:'DejaVu Sans', fontSize:11, color:'#333'}});
yAxes.push({type:'value', gridIndex:0, min:yRangeInj[0], max:yRangeInj[1],
  axisLine:{show:true, onZero:false, lineStyle:{color:'#111', width:2}},
  axisTick:{show:true, customValues:yTicksInj, length:9, lineStyle:{color:'#111', width:1.5}},
  axisLabel:{show:true, customValues:yTicksInj, margin:4, fontFamily:'Liberation Serif', fontSize:20, color:'#111'},
  splitLine:{show:false}});
// main grid b
grids.push(Object.assign({}, G.b));
xAxes.push({type:'value', gridIndex:1, min:minAB, max:maxAB, axisLine:{show:false}, axisTick:{show:false}, axisLabel:{show:false}, splitLine:{show:false}});
yAxes.push({type:'value', gridIndex:1, min:yRangeProd[0], max:yRangeProd[1],
  axisLine:{show:true, onZero:false, lineStyle:{color:'#111', width:2}},
  axisTick:{show:true, customValues:yTicksProd, length:9, lineStyle:{color:'#111', width:1.5}},
  axisLabel:{show:true, customValues:yTicksProd, margin:4, fontFamily:'Liberation Serif', fontSize:20, color:'#111'},
  splitLine:{show:false}});
// main grid c
grids.push(Object.assign({}, G.c));
xAxes.push({type:'value', gridIndex:2, min:minC, max:maxC,
  axisLine:{show:true, onZero:false, lineStyle:{color:'#333', width:2}},
  axisTick:{show:true, customValues:withMids(majC,minC,maxC), length:4, lineStyle:{color:'#333', width:1.5}},
  axisLabel:Object.assign({show:true, customValues:majC, margin:9, formatter:labelFmt(majC,xTickTextC),
    rich:{cut:{fontFamily:'DejaVu Sans', fontSize:15, color:'#333', padding:[0,0,0,31]}}}, xLabelFont),
  splitLine:{show:false},
  name:'Date', nameLocation:'middle', nameGap:32, nameTextStyle:{fontFamily:'DejaVu Sans', fontSize:11, color:'#333'}});
yAxes.push({type:'value', gridIndex:2, min:yRangeTemp[0], max:yRangeTemp[1],
  axisLine:{show:true, onZero:false, lineStyle:{color:'#111', width:2}},
  axisTick:{show:true, customValues:yTicksTemp, length:7, lineStyle:{color:'#111', width:1.5}},
  axisLabel:{show:true, customValues:yTicksTemp, margin:4, fontFamily:'Liberation Serif', fontSize:17, color:'#111'},
  splitLine:{show:false}});

// helper grids: panel backgrounds and dashed gridlines
function addDeco(left, top, width, height, nx, ny, showX, showY, bg){
  const gi = grids.length;
  const g = {left, top, width, height};
  if (bg) Object.assign(g, {show:true, backgroundColor:bg, borderWidth:0, z:-5});
  grids.push(g);
  xAxes.push({type:'value', gridIndex:gi, min:0, max:nx, interval:1, axisLine:{show:false}, axisTick:{show:false}, axisLabel:{show:false}, splitLine:{show:showX, lineStyle:GRIDLINE}});
  yAxes.push({type:'value', gridIndex:gi, min:0, max:ny, interval:1, axisLine:{show:false}, axisTick:{show:false}, axisLabel:{show:false}, splitLine:{show:showY, lineStyle:GRIDLINE}});
}
addDeco(8, 13, 1083, 1037, 1, 1, false, false, BEIGE);
addDeco(10, 1058, 70, 556, 1, 1, false, false, '#f9f8f5');
addDeco(80, 1058, 1011, 556, 1, 1, false, false, BEIGE);
function pxAB(t, g){return g.left + (t-minAB)/(maxAB-minAB)*g.width;}
function pxC(t){return G.c.left + (t-minC)/(maxC-minC)*G.c.width;}
{const l=pxAB(majAB[1],G.a), r=pxAB(majAB[5],G.a);
 addDeco(l, G.a.top, r-l, G.a.height, 4, 1, true, false);
 addDeco(l, G.b.top, r-l, G.b.height, 4, 1, true, false);}
addDeco(66, 23, 971, 465.7, 1, 11, false, true);
addDeco(66, 579, 971, 410, 1, 8, false, true);
{const l=pxC(majC[0]), r=pxC(majC[5]); addDeco(l, G.c.top, r-l, G.c.height, 5, 1, true, false);}
addDeco(80, 1082, 957, 448, 1, 7, false, true);

// series builders
function lineSeries(gi, vals, color, start, opt){
  let data = vals.map((v,i)=>[xs[i],v]);
  if (start !== null) data = [{value:[x0,start], symbol:'none'}].concat(data);
  return Object.assign({type:'line', xAxisIndex:gi, yAxisIndex:gi, data,
    symbol:PLUS, symbolSize:[7,10], showSymbol:true, showAllSymbol:true,
    lineStyle:{color, width:1.6}, itemStyle:{color}, clip:false, z:3, silent:true}, opt||{});
}
// envelope band drawn as one polygon through the axis scales
function bandSeries(gi, low, high, color){
  const rows = low.map((v,i)=>[xs[i], v, high[i]]);
  return {type:'custom', xAxisIndex:gi, yAxisIndex:gi, data:rows, z:2, silent:true,
    encode:{x:0, y:[1,2]},
    renderItem:function(params, api){
      if (params.dataIndex !== 0) return null;
      const top = rows.map(r=>api.coord([r[0], r[2]]));
      const bot = rows.map(r=>api.coord([r[0], r[1]])).reverse();
      return {type:'polygon', shape:{points:top.concat(bot)}, style:{fill:color}};
    }};
}
const BAND = '#b9b3e8';
series.push(bandSeries(0, injBandLow, injBandHigh, BAND));
series.push(bandSeries(1, prodBandLow, prodBandHigh, BAND));
series.push(bandSeries(2, tempBandLow, tempBandHigh, BAND));
injLines.forEach((v,i)=>series.push(lineSeries(0, v, injColors[i], injStartValue)));
prodLines.forEach((v,i)=>series.push(lineSeries(1, v, prodColors[i], prodStartValue)));
tempLines.forEach((v,i)=>series.push(lineSeries(2, v, tempColors[i], tempStartValue)));
series.push(lineSeries(2, tempCase1, '#000000', null, {symbol:'none', lineStyle:{color:'#000', width:5}, z:5}));
series.push(lineSeries(2, tempCase2, '#d00000', null, {symbol:'none', lineStyle:{color:'#d00000', width:6}, z:5}));

// graphics (borders, labels, annotations)
const serif = 'Liberation Serif';
const graphics = [
  {type:'line', shape:{x1:65,y1:13,x2:1091,y2:13}, style:{stroke:'#c8c8c8', lineWidth:2}},
  {type:'line', shape:{x1:1091,y1:13,x2:1091,y2:1050}, style:{stroke:'#c8c8c8', lineWidth:2}},
  {type:'line', shape:{x1:65,y1:1050,x2:1091,y2:1050}, style:{stroke:'#c8c8c8', lineWidth:2}},
  {type:'line', shape:{x1:80,y1:1058,x2:1091,y2:1058}, style:{stroke:'#c8c8c8', lineWidth:2}},
  {type:'line', shape:{x1:1091,y1:1058,x2:1091,y2:1614}, style:{stroke:'#c8c8c8', lineWidth:2}},
  {type:'text', z:50, x:40, y:34, style:{text:'a)', font:'bold 19px '+serif, fill:'#000', verticalAlign:'middle'}},
  {type:'text', z:50, x:37, y:593, style:{text:'b)', font:'bold 19px '+serif, fill:'#000', verticalAlign:'middle'}},
  {type:'text', z:50, x:25, y:1077, style:{text:'c)', font:'bold 19px '+serif, fill:'#000', verticalAlign:'middle'}},
  {type:'text', z:50, x:561, y:280, style:{text:'Injecteur', font:'bold 30px '+serif, fill:'#000', align:'center', verticalAlign:'middle'}},
  {type:'text', z:50, x:576, y:740, style:{text:'Producteur', font:'bold 30px '+serif, fill:'#000', align:'center', verticalAlign:'middle'}},
  {type:'text', z:50, x:17, y:512, rotation:Math.PI/2, style:{text:'Pression (%)', font:'28px '+serif, fill:'#000', align:'center', verticalAlign:'middle'}},
  {type:'text', z:50, x:27, y:1327, rotation:Math.PI/2, style:{text:'Température au puits producteur (%)', font:'19px '+serif, fill:'#000', align:'center', verticalAlign:'middle'}},
  {type:'circle', z:50, shape:{cx:245, cy:1130, r:22}, style:{fill:BEIGE, stroke:'#000', lineWidth:3}},
  {type:'text', z:51, x:245, y:1131, style:{text:'1', font:'bold 30px '+serif, fill:'#000', align:'center', verticalAlign:'middle'}},
  {type:'line', z:50, shape:{x1:245,y1:1162,x2:245,y2:1250}, style:{stroke:'#000', lineWidth:3}},
  {type:'polygon', z:50, shape:{points:[[238,1247],[252,1247],[245,1264]]}, style:{fill:'#000'}},
  {type:'circle', z:50, shape:{cx:980, cy:1441, r:22}, style:{fill:BEIGE, stroke:'#c0161a', lineWidth:3}},
  {type:'text', z:51, x:980, y:1442, style:{text:'2', font:'bold 30px '+serif, fill:'#c0161a', align:'center', verticalAlign:'middle'}},
  {type:'line', z:50, shape:{x1:956,y1:1442,x2:876,y2:1442}, style:{stroke:'#c0161a', lineWidth:3}},
  {type:'polygon', z:50, shape:{points:[[879,1435],[879,1449],[862,1442]]}, style:{fill:'#c0161a'}}
];

const chart = echarts.init(document.getElementById('c'), null, {renderer:'canvas'});
chart.setOption({
  animation:false,
  backgroundColor:'#ffffff',
  graphic:{elements:graphics},
  grid:grids, xAxis:xAxes, yAxis:yAxes, series
});
</script></body></html>
